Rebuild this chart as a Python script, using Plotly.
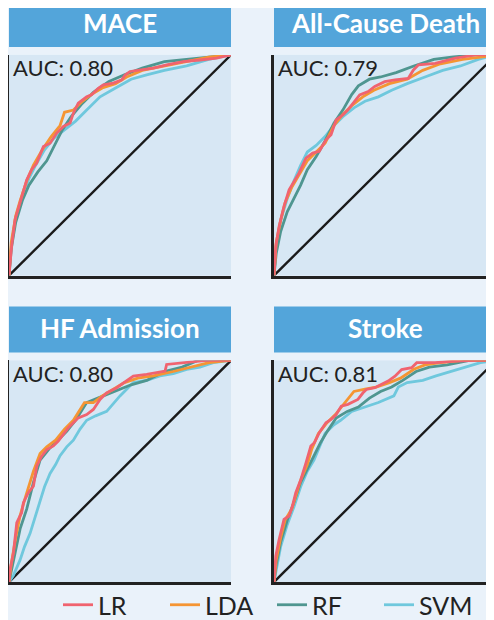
import plotly.graph_objects as go

# ROC curves (false positive rate, true positive rate)
panels = ["MACE", "All-Cause Death", "HF Admission", "Stroke"]
auc_labels = ["AUC: 0.80", "AUC: 0.79", "AUC: 0.80", "AUC: 0.81"]
models = ["LR", "LDA", "RF", "SVM"]
colors = {"LR": "#F0636F", "LDA": "#F59533", "RF": "#4F9690", "SVM": "#6FC8DD"}

# MACE
mace_lr_x = [0, .012, .027, .05, .08, .102, .125, .155, .185, .215, .245, .275, .29, .312, .35, .372, .402, .425, .47, .508, .523, .545, .59, .65, .71, .785, .86, .935, 1]
mace_lr_y = [0, .133, .253, .329, .434, .48, .51, .585, .60, .646, .676, .691, .736, .781, .811, .819, .849, .864, .872, .887, .909, .925, .932, .94, .955, .97, .977, .985, 1]
mace_lda_x = [0, .01, .03, .05, .08, .11, .15, .19, .23, .25, .29, .33, .37, .42, .48, .53, .6, .7, .8, .9, 1]
mace_lda_y = [0, .15, .27, .34, .43, .50, .57, .63, .68, .74, .75, .79, .82, .85, .87, .90, .93, .95, .97, .99, 1]
mace_rf_x = [0, .01, .03, .06, .09, .13, .17, .20, .24, .28, .33, .38, .45, .52, .6, .7, .8, .9, 1]
mace_rf_y = [0, .12, .24, .34, .41, .47, .52, .58, .66, .72, .78, .83, .88, .91, .94, .97, .98, .99, 1]
mace_svm_x = [0, .01, .03, .06, .09, .12, .16, .20, .25, .30, .35, .41, .48, .55, .62, .7, .8, .9, 1]
mace_svm_y = [0, .13, .26, .36, .44, .50, .57, .62, .66, .70, .75, .81, .85, .89, .91, .93, .95, .98, 1]

# All-Cause Death
acd_lr_x = [0, .008, .023, .045, .068, .091, .113, .144, .174, .204, .234, .257, .28, .31, .333, .363, .386, .424, .454, .499, .545, .605, .628, .651, .726, .817, .908, 1]
acd_lr_y = [0, .133, .223, .314, .389, .427, .465, .532, .555, .563, .615, .638, .706, .728, .751, .789, .819, .834, .857, .879, .887, .894, .932, .955, .962, .985, 1, 1]
acd_lda_x = [0, .01, .03, .05, .08, .11, .15, .19, .23, .27, .31, .35, .40, .45, .52, .6, .67, .75, .85, .93, 1]
acd_lda_y = [0, .15, .25, .33, .40, .45, .52, .56, .60, .68, .73, .77, .81, .84, .87, .89, .93, .96, .98, .99, 1]
acd_rf_x = [0, .01, .03, .06, .09, .12, .15, .19, .23, .27, .31, .35, .38, .43, .48, .55, .63, .72, .8, .9, 1]
acd_rf_y = [0, .10, .20, .29, .35, .41, .48, .54, .61, .69, .75, .82, .86, .89, .90, .92, .95, .98, .99, 1, 1]
acd_svm_x = [0, .01, .03, .06, .09, .12, .15, .19, .23, .27, .31, .36, .41, .47, .53, .6, .68, .76, .84, .92, 1]
acd_svm_y = [0, .13, .25, .35, .43, .50, .56, .59, .63, .68, .72, .76, .79, .81, .84, .87, .90, .93, .95, .98, 1]

# HF Admission
hf_lr_x = [0, .005, .02, .035, .057, .065, .087, .11, .125, .147, .17, .20, .222, .245, .267, .29, .312, .35, .38, .41, .44, .485, .53, .56, .62, .703, .71, .80, .89, 1]
hf_lr_y = [0, .057, .132, .268, .313, .358, .403, .433, .523, .568, .598, .614, .636, .666, .696, .719, .741, .756, .779, .824, .854, .877, .907, .929, .937, .952, .982, .99, 1, 1]
hf_lda_x = [0, .01, .03, .05, .07, .09, .11, .14, .17, .21, .25, .29, .34, .38, .42, .47, .52, .58, .65, .74, .82, .9, 1]
hf_lda_y = [0, .08, .20, .30, .37, .44, .50, .58, .61, .64, .69, .73, .81, .81, .84, .87, .90, .92, .93, .95, .97, .99, 1]
hf_rf_x = [0, .01, .03, .05, .08, .11, .14, .18, .22, .26, .3, .35, .4, .45, .5, .55, .62, .7, .78, .85, 1]
hf_rf_y = [0, .05, .15, .24, .33, .45, .55, .60, .64, .68, .73, .81, .83, .85, .87, .89, .91, .95, .97, 1, 1]
hf_svm_x = [0, .02, .05, .07, .095, .12, .14, .16, .185, .21, .23, .26, .29, .32, .35, .39, .44, .5, .56, .62, .68, .74, .8, .86, .92, 1]
hf_svm_y = [0, .03, .10, .16, .22, .30, .37, .43, .49, .53, .57, .61, .64, .69, .73, .75, .77, .84, .90, .91, .93, .94, .96, .97, .99, 1]

# Stroke
st_lr_x = [0, .008, .023, .045, .068, .083, .098, .121, .144, .166, .182, .204, .234, .257, .28, .303, .333, .378, .401, .416, .454, .514, .545, .575, .62, .643, .726, .817, .908, 1]
st_lr_y = [0, .117, .192, .283, .298, .343, .403, .463, .538, .614, .629, .674, .719, .734, .756, .794, .802, .824, .854, .869, .877, .907, .929, .959, .967, .99, .99, .997, 1, 1]
st_lda_x = [0, .01, .03, .05, .08, .1, .12, .15, .17, .2, .24, .28, .32, .36, .41, .46, .52, .57, .63, .68, .75, .85, 1]
st_lda_y = [0, .10, .20, .28, .33, .40, .46, .53, .60, .67, .72, .76, .81, .86, .87, .88, .90, .92, .96, .98, .99, 1, 1]
st_rf_x = [0, .01, .03, .06, .09, .12, .15, .18, .21, .24, .28, .33, .38, .43, .48, .53, .58, .64, .7, .78, .88, 1]
st_rf_y = [0, .08, .18, .28, .36, .45, .51, .57, .63, .68, .74, .77, .79, .83, .86, .88, .91, .95, .97, .98, 1, 1]
st_svm_x = [0, .01, .03, .06, .09, .12, .15, .18, .2, .23, .27, .3, .35, .41, .47, .54, .56, .6, .67, .73, .8, .86, .93, 1]
st_svm_y = [0, .06, .16, .26, .34, .43, .50, .55, .60, .67, .71, .73, .77, .79, .81, .84, .88, .90, .91, .93, .95, .97, .99, 1]

curves = [
    {"LR": (mace_lr_x, mace_lr_y), "LDA": (mace_lda_x, mace_lda_y), "RF": (mace_rf_x, mace_rf_y), "SVM": (mace_svm_x, mace_svm_y)},
    {"LR": (acd_lr_x, acd_lr_y), "LDA": (acd_lda_x, acd_lda_y), "RF": (acd_rf_x, acd_rf_y), "SVM": (acd_svm_x, acd_svm_y)},
    {"LR": (hf_lr_x, hf_lr_y), "LDA": (hf_lda_x, hf_lda_y), "RF": (hf_rf_x, hf_rf_y), "SVM": (hf_svm_x, hf_svm_y)},
    {"LR": (st_lr_x, st_lr_y), "LDA": (st_lda_x, st_lda_y), "RF": (st_rf_x, st_rf_y), "SVM": (st_svm_x, st_svm_y)},
]
chance_x = [0, 1]
chance_y = [0, 1]

W, H = 494, 620
OFF = 8  # page body margin, positions below are screen pixels


def px(sx):
    return (sx - OFF) / W


def py(sy):
    return 1 - (sy - OFF) / H


# screen pixel boxes of the four plot areas and their header bars
plot_px = [(9, 231, 55, 276), (274, 496, 55, 276), (9, 231, 361, 583), (274, 496, 361, 583)]
head_px = [(9, 231, 0, 47), (274, 496, 0, 47), (9, 231, 307, 353), (274, 496, 307, 353)]
title_y = [23, 23, 329, 329]

FONT = "Lato"
fig = go.Figure()

for i, name in enumerate(panels):
    ax = "" if i == 0 else str(i + 1)
    x0, x1, y0, y1 = plot_px[i]
    fig.update_layout({
        f"xaxis{ax}": dict(domain=[px(x0), min(px(x1), 1)], range=[0, 1], showgrid=False, zeroline=False,
                           showticklabels=False, ticks="", showline=True, linecolor="#222222",
                           linewidth=2.5, anchor=f"y{ax}", fixedrange=True),
        f"yaxis{ax}": dict(domain=[py(y1), py(y0)], range=[0, 1], showgrid=False, zeroline=False,
                           showticklabels=False, ticks="", showline=True, linecolor="#222222",
                           linewidth=2.5, anchor=f"x{ax}", fixedrange=True),
    })
    fig.add_trace(go.Scatter(x=chance_x, y=chance_y, mode="lines", line=dict(color="#1a1a1a", width=2.4),
                             showlegend=False, hoverinfo="skip", xaxis=f"x{ax}", yaxis=f"y{ax}"))
    for rank, m in zip([4, 3, 2, 1], ["SVM", "RF", "LDA", "LR"]):
        xs, ys = curves[i][m]
        fig.add_trace(go.Scatter(x=xs, y=ys, mode="lines", name=m, legendgroup=m, legendrank=rank,
                                 line=dict(color=colors[m], width=2.8), showlegend=(i == 0),
                                 xaxis=f"x{ax}", yaxis=f"y{ax}"))

    hx0, hx1, hy0, hy1 = head_px[i]
    fig.add_shape(type="rect", xref="paper", yref="paper", x0=px(hx0), x1=min(px(hx1), 1.0),
                  y0=py(hy1), y1=min(py(hy0), 1.0), fillcolor="#53A5DA", line_width=0, layer="below")
    fig.add_annotation(text=f"<b>{name}</b>", xref="paper", yref="paper", x=px((hx0 + hx1) / 2),
                       y=py(title_y[i]), showarrow=False, xanchor="center", yanchor="middle",
                       font=dict(family=FONT, size=26, color="white"))
    fig.add_annotation(text=auc_labels[i], xref="paper", yref="paper", x=px(x0 + 2),
                       y=py(y0 + 13), showarrow=False, xanchor="left", yanchor="middle",
                       font=dict(family=FONT, size=22, color="#222222"))

fig.update_layout(
    width=W, height=H,
    margin=dict(l=0, r=0, t=0, b=0),
    paper_bgcolor="#EAF2FA",
    plot_bgcolor="#D7E7F4",
    font=dict(family=FONT, color="#222222"),
    legend=dict(orientation="h", x=px(272), xanchor="center", y=py(606), yanchor="middle",
                font=dict(family=FONT, size=25, color="#222222"), entrywidth=62,
                bgcolor="rgba(0,0,0,0)", traceorder="normal"),
)

fig.write_html("out.html")
